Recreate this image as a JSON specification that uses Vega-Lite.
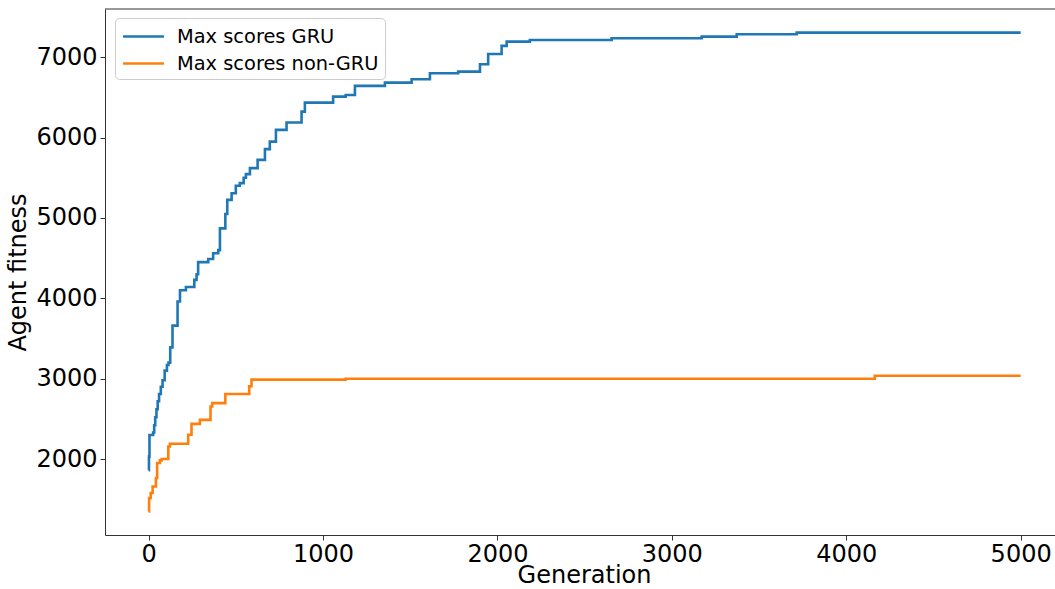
{
  "$schema": "https://vega.github.io/schema/vega-lite/v6.json",
  "width": 950,
  "height": 526,
  "autosize": {"type": "none"},
  "padding": {"left": 105, "top": 9, "right": 0, "bottom": 54},
  "background": "white",
  "config": {
    "view": {"stroke": null},
    "font": "DejaVu Sans",
    "axis": {
      "grid": false,
      "domainColor": "#333333",
      "domainWidth": 1,
      "tickColor": "#333333",
      "tickSize": 5,
      "tickWidth": 1,
      "labelFont": "DejaVu Sans",
      "labelFontSize": 24,
      "labelColor": "#000000",
      "labelFlush": false,
      "labelOverlap": false,
      "labelPadding": 2,
      "titleFont": "DejaVu Sans",
      "titleFontSize": 24,
      "titleFontWeight": "normal",
      "titleColor": "#000000"
    }
  },
  "layer": [
    {
      "data": {
        "values": [
          {"series": "Max scores GRU", "generation": 0, "fitness": 1860},
          {"series": "Max scores GRU", "generation": 2, "fitness": 2030},
          {"series": "Max scores GRU", "generation": 5, "fitness": 2300},
          {"series": "Max scores GRU", "generation": 26, "fitness": 2330},
          {"series": "Max scores GRU", "generation": 32, "fitness": 2420},
          {"series": "Max scores GRU", "generation": 38, "fitness": 2520},
          {"series": "Max scores GRU", "generation": 45, "fitness": 2620},
          {"series": "Max scores GRU", "generation": 52, "fitness": 2720},
          {"series": "Max scores GRU", "generation": 60, "fitness": 2810},
          {"series": "Max scores GRU", "generation": 70, "fitness": 2900},
          {"series": "Max scores GRU", "generation": 80, "fitness": 2980},
          {"series": "Max scores GRU", "generation": 92, "fitness": 3100},
          {"series": "Max scores GRU", "generation": 105, "fitness": 3170},
          {"series": "Max scores GRU", "generation": 114, "fitness": 3200},
          {"series": "Max scores GRU", "generation": 124, "fitness": 3390},
          {"series": "Max scores GRU", "generation": 137, "fitness": 3660},
          {"series": "Max scores GRU", "generation": 166, "fitness": 3960},
          {"series": "Max scores GRU", "generation": 180, "fitness": 4100},
          {"series": "Max scores GRU", "generation": 214, "fitness": 4140},
          {"series": "Max scores GRU", "generation": 262, "fitness": 4230},
          {"series": "Max scores GRU", "generation": 275, "fitness": 4300},
          {"series": "Max scores GRU", "generation": 284, "fitness": 4450},
          {"series": "Max scores GRU", "generation": 342, "fitness": 4490},
          {"series": "Max scores GRU", "generation": 370, "fitness": 4560},
          {"series": "Max scores GRU", "generation": 399, "fitness": 4600},
          {"series": "Max scores GRU", "generation": 409, "fitness": 4870},
          {"series": "Max scores GRU", "generation": 440, "fitness": 5050},
          {"series": "Max scores GRU", "generation": 451, "fitness": 5225},
          {"series": "Max scores GRU", "generation": 476, "fitness": 5308},
          {"series": "Max scores GRU", "generation": 500, "fitness": 5400},
          {"series": "Max scores GRU", "generation": 523, "fitness": 5433},
          {"series": "Max scores GRU", "generation": 545, "fitness": 5500},
          {"series": "Max scores GRU", "generation": 558, "fitness": 5545},
          {"series": "Max scores GRU", "generation": 581, "fitness": 5620},
          {"series": "Max scores GRU", "generation": 625, "fitness": 5723},
          {"series": "Max scores GRU", "generation": 667, "fitness": 5856},
          {"series": "Max scores GRU", "generation": 695, "fitness": 5950},
          {"series": "Max scores GRU", "generation": 730, "fitness": 6096},
          {"series": "Max scores GRU", "generation": 791, "fitness": 6187},
          {"series": "Max scores GRU", "generation": 877, "fitness": 6323},
          {"series": "Max scores GRU", "generation": 896, "fitness": 6435},
          {"series": "Max scores GRU", "generation": 1058, "fitness": 6510},
          {"series": "Max scores GRU", "generation": 1130, "fitness": 6530},
          {"series": "Max scores GRU", "generation": 1183, "fitness": 6643},
          {"series": "Max scores GRU", "generation": 1355, "fitness": 6684},
          {"series": "Max scores GRU", "generation": 1508, "fitness": 6726},
          {"series": "Max scores GRU", "generation": 1613, "fitness": 6801},
          {"series": "Max scores GRU", "generation": 1775, "fitness": 6821},
          {"series": "Max scores GRU", "generation": 1900, "fitness": 6913},
          {"series": "Max scores GRU", "generation": 1947, "fitness": 7041},
          {"series": "Max scores GRU", "generation": 2024, "fitness": 7141},
          {"series": "Max scores GRU", "generation": 2053, "fitness": 7194},
          {"series": "Max scores GRU", "generation": 2186, "fitness": 7215},
          {"series": "Max scores GRU", "generation": 2655, "fitness": 7236},
          {"series": "Max scores GRU", "generation": 3171, "fitness": 7256},
          {"series": "Max scores GRU", "generation": 3372, "fitness": 7286},
          {"series": "Max scores GRU", "generation": 3716, "fitness": 7306},
          {"series": "Max scores GRU", "generation": 5000, "fitness": 7306},
          {"series": "Max scores non-GRU", "generation": 0, "fitness": 1348},
          {"series": "Max scores non-GRU", "generation": 3, "fitness": 1515},
          {"series": "Max scores non-GRU", "generation": 12, "fitness": 1577},
          {"series": "Max scores non-GRU", "generation": 23, "fitness": 1659},
          {"series": "Max scores non-GRU", "generation": 42, "fitness": 1764},
          {"series": "Max scores non-GRU", "generation": 49, "fitness": 1950},
          {"series": "Max scores non-GRU", "generation": 65, "fitness": 1983},
          {"series": "Max scores non-GRU", "generation": 75, "fitness": 2000},
          {"series": "Max scores non-GRU", "generation": 113, "fitness": 2157},
          {"series": "Max scores non-GRU", "generation": 122, "fitness": 2190},
          {"series": "Max scores non-GRU", "generation": 227, "fitness": 2302},
          {"series": "Max scores non-GRU", "generation": 246, "fitness": 2438},
          {"series": "Max scores non-GRU", "generation": 294, "fitness": 2488},
          {"series": "Max scores non-GRU", "generation": 355, "fitness": 2654},
          {"series": "Max scores non-GRU", "generation": 365, "fitness": 2696},
          {"series": "Max scores non-GRU", "generation": 440, "fitness": 2810},
          {"series": "Max scores non-GRU", "generation": 577, "fitness": 2905},
          {"series": "Max scores non-GRU", "generation": 590, "fitness": 2988},
          {"series": "Max scores non-GRU", "generation": 1130, "fitness": 3000},
          {"series": "Max scores non-GRU", "generation": 4164, "fitness": 3036},
          {"series": "Max scores non-GRU", "generation": 5000, "fitness": 3036}
        ]
      },
      "mark": {"type": "line", "interpolate": "step-after", "strokeWidth": 2.6, "strokeJoin": "miter"},
      "encoding": {
        "x": {
          "field": "generation",
          "type": "quantitative",
          "scale": {"domain": [-250, 5197], "nice": false, "zero": false},
          "axis": {"values": [0, 1000, 2000, 3000, 4000, 5000], "format": "d", "title": "Generation", "titlePadding": -3, "titleX": 479}
        },
        "y": {
          "field": "fitness",
          "type": "quantitative",
          "scale": {"domain": [1055, 7600], "nice": false, "zero": false},
          "axis": {"values": [2000, 3000, 4000, 5000, 6000, 7000], "format": "d", "title": "Agent fitness", "titlePadding": 5, "labelPadding": 3}
        },
        "color": {
          "field": "series",
          "type": "nominal",
          "scale": {"domain": ["Max scores GRU", "Max scores non-GRU"], "range": ["#1f77b4", "#ff7f0e"]},
          "legend": {
            "orient": "none",
            "legendX": 10,
            "legendY": 9,
            "title": null,
            "symbolType": "M-1.86,0H1.86",
            "symbolSize": 484,
            "symbolStrokeWidth": 2.6,
            "symbolOffset": 10,
            "labelOffset": 21,
            "labelLimit": 0,
            "labelFont": "DejaVu Sans",
            "labelFontSize": 19.4,
            "labelColor": "#000000",
            "padding": 6,
            "rowPadding": 5,
            "fillColor": "rgba(255,255,255,0.8)",
            "strokeColor": "#cccccc",
            "cornerRadius": 4
          }
        }
      }
    },
    {
      "data": {"values": [{"edge": 7600}]},
      "mark": {"type": "rule", "color": "#333333", "strokeWidth": 1},
      "encoding": {"y": {"field": "edge", "type": "quantitative"}}
    }
  ]
}
